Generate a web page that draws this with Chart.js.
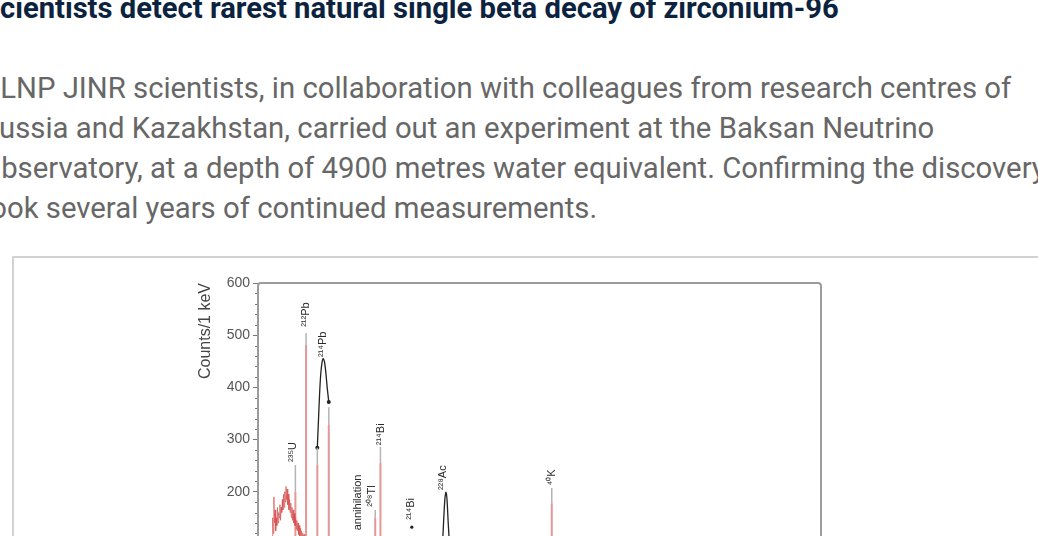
<!DOCTYPE html>
<html>
<head>
<meta charset="utf-8">
<script src="https://cdn.jsdelivr.net/npm/chart.js@4.4.1/dist/chart.umd.min.js"></script>
<style>
  html, body { margin: 0; padding: 0; width: 1038px; height: 536px; overflow: hidden; background: #fff; }
  #title { position: absolute; left: -18px; top: -6px; font: bold 29.2px/29px Roboto, sans-serif; color: #0c2340; white-space: nowrap; }
  #para { position: absolute; left: -19px; top: 68px; width: 1200px; font: 29.3px/40px Roboto, sans-serif; color: #676767; }
  #para div { white-space: nowrap; }
  #box { position: absolute; left: 12px; top: 256px; width: 1100px; height: 400px; border: 2px solid #d2d2d2; box-sizing: border-box; }
  #chart { position: absolute; left: 0; top: 256px; }
</style>
</head>
<body>
<div id="title">Scientists detect rarest natural single beta decay of zirconium-96</div>
<div id="para">
  <div>DLNP JINR scientists, in collaboration with colleagues from research centres of</div>
  <div>Russia and Kazakhstan, carried out an experiment at the Baksan Neutrino</div>
  <div>Observatory, at a depth of 4900 metres water equivalent. Confirming the discovery</div>
  <div>took several years of continued measurements.</div>
</div>
<div id="box"></div>
<canvas id="chart" width="1038" height="420"></canvas>
<script>
// ---- data ----
const spectrumEnergy = [70,73,76,79,82,85,88,91,94,97,100,103,106,109,112,115,118,121,124,127,130,133,136,139,142,145,148,151,154,157,160,163,166,169,172,175,178,181,184,187,190,193,196,199,202,205,208,211,214,217,220,223,226,229,232,235,238,241,244,247];
const spectrumCounts = [105,150,120,190,140,165,125,150,135,170,140,160,150,175,145,170,160,185,165,195,170,200,180,210,185,205,175,195,165,185,160,178,150,170,145,165,140,158,135,150,128,145,125,140,118,135,115,130,110,125,108,120,105,118,102,115,100,112,98,108];

const peakEnergy = [186, 239, 295, 352, 583, 609, 1461];
const peakRedTop = [200, 481, 251, 328, 150, 255, 178];
const peakTop    = [251, 504, 284, 362, 165, 286, 207];

const pb214FitEnergy = [295, 300, 306, 312, 318, 324, 330, 337, 344, 352];
const pb214FitCounts = [284, 330, 385, 425, 447, 455, 450, 430, 400, 372];

const ac228FitEnergy = [918, 924, 930, 935, 940, 946, 952];
const ac228FitCounts = [100, 150, 188, 199, 185, 140, 100];

const bi214Energy = [765];
const bi214Counts = [132];

const labelText   = ['²³⁵U', '²¹²Pb', '²¹⁴Pb', 'annihilation', '²⁰⁸Tl', '²¹⁴Bi', '²¹⁴Bi', '²²⁸Ac', '⁴⁰K'];
const labelEnergy = [175, 237, 322, 495, 565, 610, 760, 920, 1460];
const labelCounts = [257, 516, 458, 126, 171, 289, 146, 203, 212];

const countTicks = [0, 100, 200, 300, 400, 500, 600];
const energyTicks = [0, 500, 1000, 1500, 2000, 2500];

// ---- build datasets ----
const toPts = (xs, ys) => xs.map((x, i) => ({x: x, y: ys[i]}));
const redSegs = [];
const greySegs = [];
peakEnergy.forEach((e, i) => {
  redSegs.push({x: e, y: 0}, {x: e, y: peakRedTop[i]}, {x: e, y: null});
  greySegs.push({x: e, y: peakRedTop[i]}, {x: e, y: peakTop[i]}, {x: e, y: null});
});

const minorTicks = {
  id: 'minorTicks',
  afterDraw(chart) {
    const ctx = chart.ctx, y = chart.scales.y, a = chart.chartArea;
    ctx.save();
    ctx.strokeStyle = '#777';
    ctx.lineWidth = 1;
    for (let v = y.min; v <= y.max; v += 20) {
      if (v % 100 === 0) continue;
      const py = Math.round(y.getPixelForValue(v)) + 0.5;
      ctx.beginPath(); ctx.moveTo(a.left - 3, py); ctx.lineTo(a.left, py); ctx.stroke();
    }
    // frame
    ctx.strokeStyle = '#9c9c9c';
    ctx.lineWidth = 2;
    ctx.beginPath();
    ctx.roundRect(a.left, a.top, a.right - a.left, a.bottom - a.top, 3);
    ctx.stroke();
    // isotope labels
    ctx.fillStyle = '#2a2a2a';
    ctx.font = '11px "Liberation Sans", Arial, sans-serif';
    ctx.textBaseline = 'middle';
    ctx.textAlign = 'left';
    labelText.forEach((t, i) => {
      const px = chart.scales.x.getPixelForValue(labelEnergy[i]);
      const py = y.getPixelForValue(labelCounts[i]);
      ctx.save();
      ctx.translate(px, py);
      ctx.rotate(-Math.PI / 2);
      ctx.fillText(t, 0, 0);
      ctx.restore();
    });
    ctx.restore();
  }
};

new Chart(document.getElementById('chart'), {
  type: 'line',
  data: {
    datasets: [
      { data: toPts(spectrumEnergy, spectrumCounts), borderColor: 'rgba(215,80,80,0.7)', borderWidth: 1, pointRadius: 0, tension: 0 },
      { data: redSegs, borderColor: 'rgba(226,140,140,0.9)', borderWidth: 2, pointRadius: 0, spanGaps: false },
      { data: greySegs, borderColor: '#b4b4b4', borderWidth: 1.5, pointRadius: 0, spanGaps: false },
      { data: toPts(pb214FitEnergy, pb214FitCounts), borderColor: '#222', borderWidth: 1.3, tension: 0.2,
        pointRadius: pb214FitEnergy.map((e, i) => (i === 0 || i === pb214FitEnergy.length - 1) ? 2 : 0),
        pointBackgroundColor: '#222', pointBorderWidth: 0 },
      { data: toPts(ac228FitEnergy, ac228FitCounts), borderColor: '#222', borderWidth: 1.3, tension: 0.3, pointRadius: 0 },
      { data: toPts(bi214Energy, bi214Counts), showLine: false, pointRadius: 1.6, pointBackgroundColor: '#222', pointBorderWidth: 0 }
    ]
  },
  options: {
    responsive: false,
    animation: false,
    devicePixelRatio: 1,
    layout: { padding: { left: 192, top: 27, right: 217, bottom: 40 } },
    plugins: { legend: { display: false }, tooltip: { enabled: false } },
    scales: {
      x: {
        type: 'linear', min: 0, max: 2800,
        afterBuildTicks: s => { s.ticks = energyTicks.map(v => ({value: v})); },
        afterFit: s => { s.height = 40; },
        grid: { drawOnChartArea: false, tickLength: 5, color: '#777' },
        border: { display: false },
        ticks: { color: '#555', font: { size: 14, family: '"Liberation Sans", Arial' } },
        title: { display: true, text: 'Energy, keV', color: '#444', font: { size: 16, family: '"Liberation Sans", Arial' } }
      },
      y: {
        min: 0, max: 600,
        afterBuildTicks: s => { s.ticks = countTicks.map(v => ({value: v})); },
        afterFit: s => { s.width = 66; },
        grid: { drawOnChartArea: false, tickLength: 5, color: '#777' },
        border: { display: false },
        ticks: { color: '#555', padding: 3, font: { size: 14, family: '"Liberation Sans", Arial' } },
        title: { display: true, text: 'Counts/1 keV', align: 'end', color: '#444', padding: { top: 4, bottom: 4 },
                 font: { size: 16, family: '"Liberation Sans", Arial' } }
      }
    }
  },
  plugins: [minorTicks]
});
</script>
</body>
</html>
